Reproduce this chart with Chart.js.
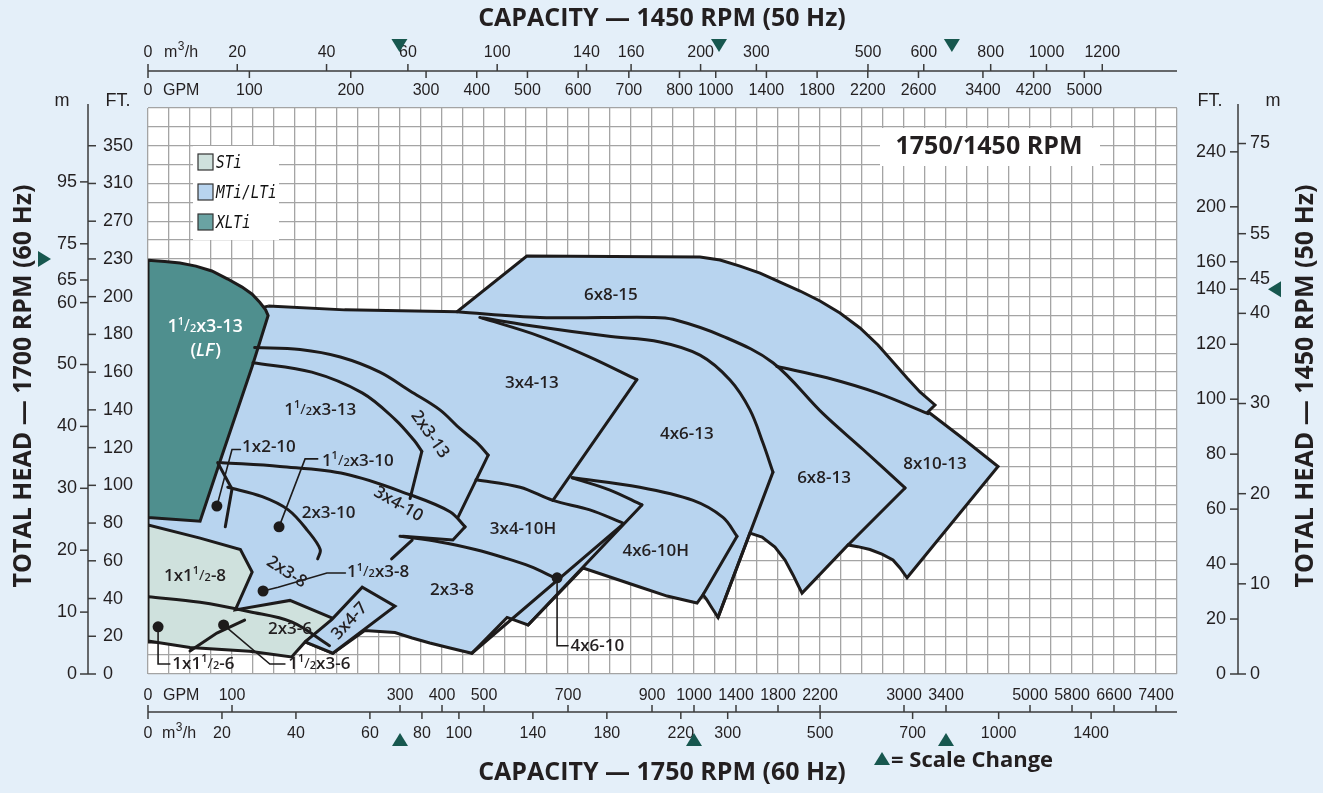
<!DOCTYPE html>
<html>
<head>
<meta charset="utf-8">
<script src="https://cdn.jsdelivr.net/npm/chart.js@4.4.1/dist/chart.umd.min.js"></script>
<style>
  html, body { margin: 0; padding: 0; background: #e4eff9; }
  canvas { display: block; }
</style>
</head>
<body>
<canvas id="chart" width="1323" height="793"></canvas>
<script>
// ---- axis definition (capacity and head scales change step at these values) ----
const GPM_BREAKS = [0, 300, 1000, 3400];
const GPM_PER_CELL = [25, 50, 200, 400];
const GPM_CELLS = 49;
const FT_BREAKS = [0, 200, 230];
const FT_PER_CELL = [10, 15, 20];
const FT_CELLS = 30;

// tick labels
const gpmBottom = [0, 100, 300, 400, 500, 700, 900, 1000, 1400, 1800, 2200, 3000, 3400, 5000, 5800, 6600, 7400];
const m3hBottom = [0, 20, 40, 60, 80, 100, 140, 180, 220, 300, 500, 700, 1000, 1400];
const gpmTop = [0, 100, 200, 300, 400, 500, 600, 700, 800, 1000, 1400, 1800, 2200, 2600, 3400, 4200, 5000];
const m3hTop = [0, 20, 40, 60, 100, 140, 160, 200, 300, 500, 600, 800, 1000, 1200];
const ftLeft = [0, 20, 40, 60, 80, 100, 120, 140, 160, 180, 200, 230, 270, 310, 350];
const mLeft = [0, 10, 20, 30, 40, 50, 60, 65, 75, 95];
const ftRight = [0, 20, 40, 60, 80, 100, 120, 140, 160, 200, 240];
const mRight = [0, 10, 20, 30, 40, 45, 55, 75];
const scaleChangeBottom = [300, 1000, 3400];   // GPM @1750
const scaleChangeTop = [248, 1026, 2910];      // GPM @1450
const scaleChangeLeft = [230];                 // ft @1750
const scaleChangeRight = [140];                // ft @1450

// ---- pump coverage outlines, [GPM, ft] at 1750 RPM ----
const xltiArea = [[0,229],[20,228],[38,226.7],[57,224.3],[76,220.4],[95,214],[112,207.6],[124,202],[133,197],
  [140,193],[143,190],[124,163],[86,113],[62,81],[0,83]];
const mtiArea = [[143,195],[234,193],[436,192],[602,233],[1057,232],[1248,229.1],[1438,224.3],[1629,218.8],
  [1819,211.6],[2010,204.5],[2200,197.7],[2390,191.3],[2581,183.4],[2752,174.4],[2895,165.4],[3029,156.9],
  [3152,149.5],[3295,142.6],[3229,139],[3667,126],[4391,110],[3029,51],[2962,56.2],[2895,60.4],[2790,63.5],
  [2676,66],[2560,67.5],[2467,68.4],[2029,42.9],[1990,47.2],[1943,52.5],[1867,60.4],[1771,67.3],[1648,72.6],
  [1533,74.7],[1229,30],[1171,35],[1120,39.5],[1086,42],[1029,37.6],[936,41.3],[871,46.1],[800,51.4],[736,56.2],
  [605,26],[555,30],[471,11],[419,13.8],[371,16.4],[329,19.1],[294,22],[258,23],[220,11],[187,17],[0,17],[0,180]];
const stiArea = [[0,79],[62,72],[110,66],[124,54],[104,34],[169,39],[223,29],[187,17],[171,9],[121,12],[50,14],[0,17.5]];
const area3x4_7 = [[187,17],[219,29],[255,46],[294,36],[220,11]];

// smooth boundary curves
const curve1half3_13 = [[127,173],[181,172],[229,168],[276,160],[324,150],[395,140],[443,130],[486,122],[510,116]];
const curve2x3_13 = [[125,165],[195,160],[255,149],[294,135],[333,124],[352,118]];
const curve3x4_10 = [[88,112],[157,110],[235,106],[324,95],[419,86],[455,78]];
const curve1half3_10 = [[95,99],[136,94],[167,87],[190,76],[205,66],[202,61]];
const curve2x3_8 = [[300,73],[395,70],[479,66],[550,61.5],[610,57],[669,51]];
const curve3x4_10H = [[481,103],[586,99],[664,92],[752,87],[831,80]];
const curve4x6_10 = [[710,104],[800,97.5],[876,89.6]];
const curve3x4_13 = [[490,189],[633,179],[752,168],[864,156]];
const curve6x8_13 = [[436,192],[633,189],[902,189],[950,188],[1276,179],[1752,165],[2229,138],[2610,119],[3010,98.6]];
const curve8x10_13 = [[1790,163],[2267,157],[2743,149],[3229,138]];
const curve4x6_13 = [[498,188.7],[633,183.9],[793,179.1],[919,176],[1057,169],[1343,155.8],[1533,140],[1657,122.4],[1752,107]];
const curve4x6_10H = [[710,104],[871,99],[998,92],[1276,83],[1410,73]];
const curve1x1half_6 = [[0,41],[62,38],[121,33],[171,27.6],[216,15]];

// straight boundary edges
const edge1half3_13 = [[510,116],[438,83]];
const edge2x3_13 = [[352,118],[324,93]];
const edge3x4_10 = [[455,78],[426,71],[307,73]];
const edge1x2_10 = [[83,112],[100,98],[92,78]];
const edge2x3_10 = [[290,61],[329,71]];
const edge4x6_10a = [[876,89.6],[605,26]];
const edge4x6_10b = [[829,79],[471,11]];
const edge3x4_13 = [[864,156],[664,92]];
const edge6x8_13 = [[3010,98.6],[2467,68.4]];
const edge4x6_13 = [[1752,107],[1229,30]];
const edge4x6_10H = [[1410,73],[1086,42]];
const edge1half3_6 = [[50,12.2],[82,21.7],[115,28.6]];

// leader lines and dots
const leader1x2_10 = [[82,89],[100,119],[110,119]];
const leader1half3_10 = [[156,78],[187,114],[202,114]];
const leader1half3_8 = [[137,44],[155,46],[213,53.5],[235,53.5]];
const leader4x6_10 = [[674,51],[674,15],[700,15]];
const leader1x1half_6 = [[12,25],[12,5.3],[26,5.3]];
const leader1half3_6 = [[90,26],[145,5.3],[163,5.3]];
const leaderDots = [[82,89],[156,78],[137,44],[674,51],[12,25],[90,26]];

// region names [text, GPM, ft]
const regionLabels = [
  ['6x8-15', 802, 201], ['3x4-13', 614, 154], ['4x6-13', 983, 127], ['6x8-13', 2238, 104],
  ['8x10-13', 3295, 111], ['1½x3-13', 205, 140], ['3x4-10H', 593, 77], ['2x3-10', 215, 85],
  ['4x6-10H', 909, 65], ['1x1½-8', 56, 52], ['2x3-8', 424, 44.5], ['2x3-6', 169, 24]
];
const leaderLabels = [
  ['1x2-10', 112, 120], ['1½x3-10', 207, 113], ['1½x3-8', 237, 54], ['4x6-10', 706, 15],
  ['1x1½-6', 29, 5.3], ['1½x3-6', 167, 5.3]
];
const slantedLabels = [
  ['2x3-13', 371, 127, 55], ['3x4-10', 298, 90, 30], ['2x3-8', 165, 54, 33], ['3x4-7', 240, 28, -47]
];
const lfLabel = ['1½x3-13', 68, 184];

// ---- custom scale: linear inside each step, steps change at the breaks ----
function toCell(v, br, per) {
  let c = 0;
  for (let i = 0; i < br.length; i++) {
    const end = i + 1 < br.length ? br[i + 1] : Infinity;
    if (v <= end) return c + (v - br[i]) / per[i];
    c += (end - br[i]) / per[i];
  }
  return c;
}
function fromCell(c, br, per) {
  let acc = 0;
  for (let i = 0; i < br.length; i++) {
    const end = i + 1 < br.length ? br[i + 1] : Infinity;
    const n = (end - br[i]) / per[i];
    if (c <= acc + n) return br[i] + (c - acc) * per[i];
    acc += n;
  }
  return br[br.length - 1];
}
const AXES = { x: [GPM_BREAKS, GPM_PER_CELL, GPM_CELLS], y: [FT_BREAKS, FT_PER_CELL, FT_CELLS] };

class BrokenScale extends Chart.Scale {
  static id = 'broken';
  static defaults = {};
  _brk() { return AXES[this.id]; }
  determineDataLimits() {
    const [b, p, n] = this._brk();
    this.min = 0;
    this.max = fromCell(n, b, p);
  }
  buildTicks() {
    const [b, p, n] = this._brk();
    const t = [];
    for (let i = 0; i <= n; i++) t.push({ value: fromCell(i, b, p) });
    return t;
  }
  getLabelForValue(v) { return '' + Math.round(v); }
  getPixelForValue(v) {
    const [b, p, n] = this._brk();
    return this.getPixelForDecimal(toCell(v, b, p) / n);
  }
  getValueForPixel(px) {
    const [b, p, n] = this._brk();
    return fromCell(this.getDecimalForPixel(px) * n, b, p);
  }
}
Chart.register(BrokenScale);

// ---- conversions for the secondary axes ----
const GPM_PER_M3H = 4.4029;
const FT_PER_M = 3.2808;
const SR = 1750 / 1450;
// the 1450 RPM head scale has a single step change, at 140 ft
const FT_RIGHT_BREAKS = [0, 140];
const FT_RIGHT_PER_CELL = [10 / (SR * SR), 20 / (SR * SR)];
const rightFtAsLeft = f => fromCell(toCell(f, FT_RIGHT_BREAKS, FT_RIGHT_PER_CELL), FT_BREAKS, FT_PER_CELL);

const INK = '#1d1b1b';
const BLUE = '#b8d4ef';
const GREY = '#cfe1dd';
const TEAL = '#4f8f8e';
const PAGE = '#e4eff9';

const pts = a => a.map(([x, y]) => ({ x, y }));
function area(a, color, order) {
  return { data: pts(a.concat([a[0]])), showLine: true, fill: 'shape', backgroundColor: color,
    borderColor: INK, borderWidth: 3, pointRadius: 0, order, clip: 0 };
}
function line(a, tension, width = 3, order = 4) {
  return { data: pts(a), showLine: true, fill: false, borderColor: INK, borderWidth: width,
    tension, pointRadius: 0, order, clip: 0, borderCapStyle: 'round' };
}

const datasets = [
  area(mtiArea, BLUE, 20),
  area(stiArea, GREY, 19),
  area(area3x4_7, BLUE, 18),
  area(xltiArea, TEAL, 17),
  ...[curve1half3_13, curve2x3_13, curve3x4_10, curve1half3_10, curve2x3_8, curve3x4_10H, curve4x6_10,
      curve3x4_13, curve6x8_13, curve8x10_13, curve4x6_13, curve4x6_10H, curve1x1half_6].map(a => line(a, 0.35)),
  ...[edge1half3_13, edge2x3_13, edge3x4_10, edge1x2_10, edge2x3_10, edge4x6_10a, edge4x6_10b, edge3x4_13,
      edge6x8_13, edge4x6_13, edge4x6_10H, edge1half3_6].map(a => line(a, 0)),
  ...[leader1x2_10, leader1half3_10, leader1half3_8, leader4x6_10, leader1x1half_6, leader1half3_6]
      .map(a => line(a, 0, 1.6, 2)),
  { data: pts(leaderDots), showLine: false, pointRadius: 5.5, pointBackgroundColor: INK,
    pointBorderWidth: 0, order: 1, clip: 0 }
];

// ---- drawing helpers ----
const TICK_FONT = '16px "Liberation Sans", Arial, sans-serif';
const SIDE_FONT = '18px "Liberation Sans", Arial, sans-serif';
const TITLE_FONT = 'bold 25px "Open Sans", sans-serif';

function drawName(ctx, s, x, y, size, color, align = 'center', italic = false) {
  const base = `${italic ? 'italic ' : ''}600 ${size}px "Open Sans", sans-serif`;
  const small = `600 ${Math.round(size * 0.62)}px "Open Sans", sans-serif`;
  const slash = `400 ${Math.round(size * 0.9)}px "Open Sans", sans-serif`;
  const parts = [];
  for (const seg of s.split(/(½)/)) {
    if (seg === '½') parts.push(['1', small, -size * 0.28], ['/', slash, 0], ['2', small, size * 0.12]);
    else if (seg) parts.push([seg, base, 0]);
  }
  let w = 0;
  for (const p of parts) { ctx.font = p[1]; p.push(ctx.measureText(p[0]).width); w += p[3]; }
  let cx = align === 'left' ? x : x - w / 2;
  ctx.fillStyle = color; ctx.textBaseline = 'middle'; ctx.textAlign = 'left';
  for (const p of parts) { ctx.font = p[1]; ctx.fillText(p[0], cx, y + p[2]); cx += p[3]; }
}
function unitM3h(ctx, x, y) {
  ctx.textAlign = 'left';
  ctx.font = TICK_FONT; ctx.fillText('m', x, y);
  const w = ctx.measureText('m').width;
  ctx.font = '12px "Liberation Sans", Arial, sans-serif'; ctx.fillText('3', x + w + 0.5, y - 6);
  ctx.font = TICK_FONT; ctx.fillText('/h', x + w + 7.5, y);
}
function seg(ctx, x1, y1, x2, y2) { ctx.beginPath(); ctx.moveTo(x1, y1); ctx.lineTo(x2, y2); ctx.stroke(); }
function tri(ctx, x, y, dir) {
  const w = 8, h = 13;
  ctx.beginPath();
  if (dir === 'down') { ctx.moveTo(x - w, y); ctx.lineTo(x + w, y); ctx.lineTo(x, y + h); }
  if (dir === 'up') { ctx.moveTo(x - w, y + h); ctx.lineTo(x + w, y + h); ctx.lineTo(x, y); }
  if (dir === 'right') { ctx.moveTo(x, y - w); ctx.lineTo(x, y + w); ctx.lineTo(x + h, y); }
  if (dir === 'left') { ctx.moveTo(x, y - w); ctx.lineTo(x, y + w); ctx.lineTo(x - h, y); }
  ctx.closePath(); ctx.fillStyle = '#17574f'; ctx.fill();
}

const backdrop = {
  id: 'backdrop',
  beforeDraw(chart) {
    const { ctx, chartArea: a } = chart;
    ctx.save();
    ctx.fillStyle = PAGE; ctx.fillRect(0, 0, chart.width, chart.height);
    ctx.fillStyle = '#ffffff'; ctx.fillRect(a.left, a.top, a.right - a.left, a.bottom - a.top);
    ctx.restore();
  }
};

const annotations = {
  id: 'annotations',
  afterDatasetsDraw(chart) {
    const ctx = chart.ctx, X = chart.scales.x, Y = chart.scales.y;
    ctx.save();
    // legend
    ctx.fillStyle = '#fff'; ctx.fillRect(193, 146, 86, 94);
    [['STi', GREY], ['MTi/LTi', BLUE], ['XLTi', '#6aa3a3']].forEach(([t, c], i) => {
      const y = 162 + i * 30;
      ctx.fillStyle = c; ctx.fillRect(198, y - 8, 15, 16);
      ctx.strokeStyle = '#333'; ctx.lineWidth = 1.2; ctx.strokeRect(198, y - 8, 15, 16);
      ctx.save(); ctx.translate(216, y); ctx.scale(0.8, 1);
      ctx.font = 'oblique 18px "DejaVu Sans Mono", monospace'; ctx.fillStyle = '#111';
      ctx.textAlign = 'left'; ctx.textBaseline = 'middle'; ctx.fillText(t, 0, 1);
      ctx.restore();
    });
    // speed box
    ctx.fillStyle = '#fff'; ctx.fillRect(880, 128, 220, 38);
    ctx.font = 'bold 25px "Open Sans", sans-serif'; ctx.fillStyle = '#231f20';
    ctx.textAlign = 'center'; ctx.textBaseline = 'middle'; ctx.fillText('1750/1450 RPM', 989, 147);

    const px = v => X.getPixelForValue(v), py = v => Y.getPixelForValue(v);
    regionLabels.forEach(([t, q, h]) => drawName(ctx, t, px(q), py(h), 17, '#231f20'));
    leaderLabels.forEach(([t, q, h]) => drawName(ctx, t, px(q), py(h), 17, '#231f20', 'left'));
    slantedLabels.forEach(([t, q, h, deg]) => {
      ctx.save(); ctx.translate(px(q), py(h)); ctx.rotate(deg * Math.PI / 180);
      drawName(ctx, t, 0, 0, 17, '#231f20'); ctx.restore();
    });
    drawName(ctx, lfLabel[0], px(lfLabel[1]), py(lfLabel[2]), 18, '#ffffff');
    const lx = px(lfLabel[1]), ly = py(lfLabel[2]) + 24;
    ctx.font = '600 18px "Open Sans", sans-serif'; ctx.fillStyle = '#fff'; ctx.textAlign = 'center';
    const wl = ctx.measureText('(').width;
    ctx.font = 'italic 600 18px "Open Sans", sans-serif';
    const wm = ctx.measureText('LF').width;
    ctx.fillText('LF', lx, ly);
    ctx.font = '600 18px "Open Sans", sans-serif';
    ctx.fillText('(', lx - wm / 2 - wl / 2, ly); ctx.fillText(')', lx + wm / 2 + wl / 2 + 1, ly);
    ctx.restore();
  }
};

const axes = {
  id: 'axes',
  afterDraw(chart) {
    const ctx = chart.ctx, X = chart.scales.x, Y = chart.scales.y;
    const px = v => X.getPixelForValue(v), py = v => Y.getPixelForValue(v);
    const L = X.left, R = X.right, T = Y.top, B = Y.bottom;
    ctx.save();
    ctx.strokeStyle = '#3b3b3b'; ctx.lineWidth = 1.5; ctx.fillStyle = '#231f20';
    ctx.font = TICK_FONT; ctx.textBaseline = 'middle';

    // top axis (1450 RPM)
    seg(ctx, L, 71, R, 71);
    ctx.textAlign = 'center';
    m3hTop.forEach(v => { const x = px(v * GPM_PER_M3H * SR); seg(ctx, x, 64, x, 71); ctx.fillText(v, x, 53); });
    gpmTop.forEach(v => { const x = px(v * SR); seg(ctx, x, 71, x, 78); ctx.fillText(v, x, 91); });
    unitM3h(ctx, L + 16, 53);
    ctx.textAlign = 'left'; ctx.fillText('GPM', L + 15, 91);

    // bottom axis (1750 RPM)
    seg(ctx, L, 712, R, 712);
    ctx.textAlign = 'center';
    gpmBottom.forEach(v => { const x = px(v); seg(ctx, x, 705, x, 712); ctx.fillText(v, x, 696); });
    m3hBottom.forEach(v => { const x = px(v * GPM_PER_M3H); seg(ctx, x, 712, x, 719); ctx.fillText(v, x, 734); });
    unitM3h(ctx, L + 14, 734);
    ctx.textAlign = 'left'; ctx.fillText('GPM', L + 15, 696);

    // left axis (1750 RPM)
    ctx.font = SIDE_FONT;
    const lx = 88;
    seg(ctx, lx, T - 4, lx, B);
    ctx.textAlign = 'left';
    ftLeft.forEach(v => { const y = py(v); seg(ctx, lx, y, lx + 8, y); ctx.fillText(v, lx + 15, y); });
    ctx.textAlign = 'right';
    mLeft.forEach(v => { const y = py(v * FT_PER_M); seg(ctx, lx - 8, y, lx, y); ctx.fillText(v, lx - 11, y); });
    ctx.textAlign = 'center';
    ctx.fillText('m', 62, 101); ctx.fillText('FT.', 118, 101);

    // right axis (1450 RPM)
    const rx = 1238;
    seg(ctx, rx, T - 4, rx, B);
    ctx.textAlign = 'right';
    ftRight.forEach(v => { const y = py(rightFtAsLeft(v)); seg(ctx, rx - 8, y, rx, y); ctx.fillText(v, rx - 12, y); });
    ctx.textAlign = 'left';
    mRight.forEach(v => { const y = py(rightFtAsLeft(v * FT_PER_M)); seg(ctx, rx, y, rx + 8, y); ctx.fillText(v, rx + 12, y); });
    ctx.textAlign = 'center';
    ctx.fillText('FT.', 1210, 101); ctx.fillText('m', 1273, 101);

    // titles
    ctx.font = TITLE_FONT; ctx.fillStyle = '#231f20';
    ctx.fillText('CAPACITY — 1450 RPM (50 Hz)', 662, 19);
    ctx.fillText('CAPACITY — 1750 RPM (60 Hz)', 662, 773);
    ctx.save(); ctx.translate(24, 386); ctx.rotate(-Math.PI / 2);
    ctx.fillText('TOTAL HEAD — 1700 RPM (60 Hz)', 0, 0); ctx.restore();
    ctx.save(); ctx.translate(1306, 386); ctx.rotate(-Math.PI / 2);
    ctx.fillText('TOTAL HEAD — 1450 RPM (50 Hz)', 0, 0); ctx.restore();
    ctx.textAlign = 'left';
    ctx.font = 'bold 22px "Open Sans", sans-serif';
    ctx.fillText('= Scale Change', 891, 761);

    // scale change markers
    scaleChangeTop.forEach(v => tri(ctx, px(v * SR), 39, 'down'));
    scaleChangeBottom.forEach(v => tri(ctx, px(v), 733, 'up'));
    scaleChangeLeft.forEach(v => tri(ctx, 38, py(v), 'right'));
    scaleChangeRight.forEach(v => tri(ctx, 1281, py(rightFtAsLeft(v)), 'left'));
    tri(ctx, 882, 752, 'up');
    ctx.restore();
  }
};

new Chart(document.getElementById('chart'), {
  type: 'scatter',
  data: { datasets },
  options: {
    responsive: false,
    animation: false,
    events: [],
    layout: { padding: { left: 148, right: 146, top: 108, bottom: 119 } },
    plugins: { legend: { display: false }, tooltip: { enabled: false } },
    scales: {
      x: {
        type: 'broken', position: 'bottom',
        grid: { color: '#a4a4a4', lineWidth: 1.3, drawTicks: false },
        border: { display: false }, ticks: { display: false },
        afterFit: s => { s.height = 0; }
      },
      y: {
        type: 'broken', position: 'left',
        grid: { color: '#a4a4a4', lineWidth: 1.3, drawTicks: false },
        border: { display: false }, ticks: { display: false },
        afterFit: s => { s.width = 0; }
      }
    }
  },
  plugins: [backdrop, annotations, axes]
});
</script>
</body>
</html>
